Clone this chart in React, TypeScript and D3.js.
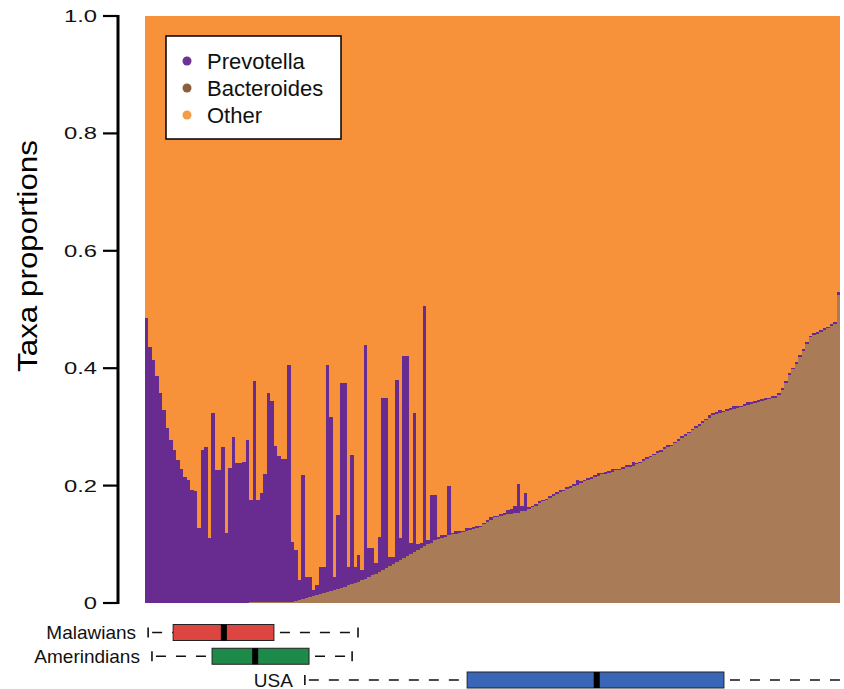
import React from 'react';
import * as d3 from 'd3';

// per-sample proportions, samples ordered as in the figure
const bacteroides = [
  0, 0, 0, 0, 0, 0, 0, 0, 0, 0,
  0, 0, 0, 0, 0, 0, 0, 0, 0, 0,
  0, 0, 0, 0, 0, 0, 0, 0, 0, 0,
  0.001, 0.001, 0.001, 0.001, 0.001, 0.001, 0.001, 0.001, 0.001, 0.001,
  0.001, 0.001, 0.002, 0.003, 0.005, 0.007, 0.009, 0.011, 0.012, 0.014,
  0.015, 0.017, 0.019, 0.02, 0.022, 0.024, 0.026, 0.028, 0.03, 0.032,
  0.034, 0.036, 0.039, 0.041, 0.044, 0.047, 0.05, 0.053, 0.056, 0.06,
  0.063, 0.066, 0.07, 0.073, 0.077, 0.08, 0.084, 0.087, 0.09, 0.094,
  0.097, 0.1, 0.103, 0.107, 0.109, 0.111, 0.113, 0.115, 0.117, 0.118,
  0.12, 0.121, 0.123, 0.124, 0.126, 0.128, 0.13, 0.134, 0.138, 0.142,
  0.146, 0.147, 0.148, 0.15, 0.151, 0.152, 0.153, 0.154, 0.156, 0.157,
  0.16, 0.163, 0.166, 0.17, 0.173, 0.176, 0.179, 0.182, 0.186, 0.189,
  0.191, 0.194, 0.196, 0.199, 0.201, 0.204, 0.207, 0.209, 0.212, 0.215,
  0.217, 0.219, 0.22, 0.222, 0.224, 0.226, 0.227, 0.229, 0.231, 0.232,
  0.234, 0.236, 0.238, 0.242, 0.245, 0.248, 0.252, 0.255, 0.258, 0.262,
  0.265, 0.268, 0.272, 0.276, 0.281, 0.285, 0.289, 0.294, 0.298, 0.302,
  0.307, 0.311, 0.316, 0.32, 0.322, 0.324, 0.325, 0.327, 0.329, 0.331,
  0.332, 0.334, 0.336, 0.338, 0.339, 0.341, 0.343, 0.344, 0.346, 0.347,
  0.349, 0.35, 0.355, 0.363, 0.375, 0.388, 0.398, 0.408, 0.419, 0.43,
  0.442, 0.453, 0.456, 0.459, 0.462, 0.465, 0.468, 0.472, 0.476, 0.525,
];

const prevotella = [
  0.486, 0.436, 0.414, 0.386, 0.358, 0.329, 0.298, 0.278, 0.261, 0.244,
  0.229, 0.215, 0.21, 0.193, 0.19, 0.128, 0.26, 0.266, 0.11, 0.323,
  0.227, 0.227, 0.266, 0.119, 0.23, 0.283, 0.238, 0.238, 0.24, 0.278,
  0.175, 0.377, 0.175, 0.187, 0.218, 0.357, 0.343, 0.266, 0.249, 0.244,
  0.244, 0.404, 0.102, 0.087, 0.034, 0.211, 0.035, 0.033, 0.01, 0.016,
  0.046, 0.044, 0.386, 0.297, 0.022, 0.126, 0.349, 0.347, 0.031, 0.22,
  0.027, 0.046, 0.017, 0.399, 0.049, 0.046, 0.018, 0.06, 0.293, 0.289,
  0.015, 0.012, 0.31, 0.037, 0.343, 0.34, 0.018, 0.236, 0.01, 0.008,
  0.409, 0.007, 0.081, 0.077, 0.004, 0.005, 0.003, 0.084, 0.003, 0.004,
  0.003, 0.002, 0.004, 0.003, 0.003, 0.004, 0.002, 0.003, 0.003, 0.004,
  0.003, 0.002, 0.004, 0.003, 0.007, 0.008, 0.012, 0.049, 0.009, 0.031,
  0.003, 0.002, 0.003, 0.004, 0.003, 0.002, 0.003, 0.004, 0.003, 0.003,
  0.002, 0.004, 0.003, 0.003, 0.009, 0.003, 0.002, 0.004, 0.003, 0.003,
  0.004, 0.002, 0.003, 0.003, 0.004, 0.003, 0.002, 0.003, 0.004, 0.003,
  0.006, 0.003, 0.002, 0.004, 0.003, 0.003, 0.002, 0.004, 0.003, 0.003,
  0.004, 0.002, 0.003, 0.003, 0.004, 0.003, 0.002, 0.003, 0.004, 0.003,
  0.003, 0.002, 0.004, 0.003, 0.003, 0.004, 0.002, 0.003, 0.003, 0.004,
  0.003, 0.002, 0.003, 0.004, 0.003, 0.003, 0.002, 0.004, 0.003, 0.003,
  0.004, 0.002, 0.003, 0.003, 0.004, 0.003, 0.002, 0.003, 0.004, 0.003,
  0.003, 0.002, 0.004, 0.003, 0.003, 0.004, 0.002, 0.003, 0.003, 0.004,
];

const taxa = ['Bacteroides', 'Prevotella', 'Other'];
const legendOrder = ['Prevotella', 'Bacteroides', 'Other'];
const yTicks = [0, 0.2, 0.4, 0.6, 0.8, 1.0];

// box plots of sample rank per population
const groups = ['Malawians', 'Amerindians', 'USA'];
const groupMin = [0.9, 2.0, 46];
const groupQ1 = [8.1, 19.3, 92.7];
const groupMedian = [22.7, 31.7, 130];
const groupQ3 = [37.1, 47.2, 166.6];
const groupMax = [61.3, 59.6, 205];

const colors: Record<string, string> = {
  Bacteroides: '#a97c57',
  Prevotella: '#682c91',
  Other: '#f7923a',
};
const legendColors: Record<string, string> = {
  Prevotella: '#6b3294',
  Bacteroides: '#8c5d3e',
  Other: '#f59c48',
};
const boxColors = ['#dc4540', '#1d8a4a', '#3a66b8'];

const FONT = '"Liberation Sans", Arial, Helvetica, sans-serif';

export default function App() {
  const width = 844;
  const height = 689;
  const left = 145;
  const right = 840;
  const top = 16;
  const bottom = 603;
  const n = bacteroides.length;

  const rows = bacteroides.map((b, i) => ({
    i,
    Bacteroides: b,
    Prevotella: prevotella[i],
    Other: 1 - b - prevotella[i],
  }));
  const series = d3.stack<any>().keys(taxa)(rows);

  const x = d3.scaleBand<number>().domain(d3.range(n)).range([left, right]).padding(0);
  const rank = d3.scaleLinear().domain([0, n]).range([left, right]);
  const y = d3.scaleLinear().domain([0, 1]).range([bottom, top]);
  const row = d3.scalePoint<string>().domain(groups).range([632.5, 680]);

  const fmt = (d: number) => (d === 0 ? '0' : d3.format('.1f')(d));

  return (
    <div>
      <style>{'body{margin:0}'}</style>
      <svg width={width} height={height} style={{ display: 'block', fontFamily: FONT }}>
        <rect width={width} height={height} fill="#fff" />
        <g shapeRendering="crispEdges">
          {series.map((s) => (
            <g key={s.key} fill={colors[s.key]}>
              {s.map((d: any) => (
                <rect
                  key={d.data.i}
                  x={x(d.data.i)}
                  y={y(d[1])}
                  width={x.bandwidth()}
                  height={Math.max(0, y(d[0]) - y(d[1]))}
                />
              ))}
            </g>
          ))}
        </g>

        {/* y axis */}
        <line x1={118} x2={118} y1={y(1) - 1} y2={y(0) + 1} stroke="#000" strokeWidth={3} />
        {yTicks.map((t) => (
          <g key={t}>
            <line x1={103} x2={118} y1={y(t)} y2={y(t)} stroke="#000" strokeWidth={2.2} />
            <text
              transform={`translate(97,${y(t) + 6}) scale(1.4,1)`}
              textAnchor="end"
              fontSize={17}
              fill="#111"
            >
              {fmt(t)}
            </text>
          </g>
        ))}
        <text
          transform={`translate(37,256) rotate(-90)`}
          textAnchor="middle"
          fontSize={27}
          textLength={232}
          lengthAdjust="spacingAndGlyphs"
          fill="#000"
        >
          Taxa proportions
        </text>

        {/* legend */}
        <rect x={166} y={36} width={175} height={103} fill="#fff" stroke="#000" strokeWidth={1.5} />
        {legendOrder.map((k, i) => (
          <g key={k} transform={`translate(187,${61 + i * 27})`}>
            <circle r={4.5} fill={legendColors[k]} />
            <text x={20} y={7.5} fontSize={22} fill="#111">
              {k}
            </text>
          </g>
        ))}

        {/* box plots */}
        {groups.map((g, i) => {
          const cy = row(g) as number;
          const h = 8;
          return (
            <g key={g}>
              <line x1={rank(groupMin[i])} x2={rank(groupQ1[i])} y1={cy} y2={cy} stroke="#111" strokeWidth={1.6} strokeDasharray="10,10" strokeDashoffset={-4} />
              <line x1={rank(groupQ3[i])} x2={rank(groupMax[i])} y1={cy} y2={cy} stroke="#111" strokeWidth={1.6} strokeDasharray="10,10" strokeDashoffset={-6} />
              <line x1={rank(groupMin[i])} x2={rank(groupMin[i])} y1={cy - 5} y2={cy + 5} stroke="#111" strokeWidth={1.6} />
              <line x1={rank(groupMax[i])} x2={rank(groupMax[i])} y1={cy - 5} y2={cy + 5} stroke="#111" strokeWidth={1.6} />
              <rect
                x={rank(groupQ1[i])}
                y={cy - h}
                width={rank(groupQ3[i]) - rank(groupQ1[i])}
                height={2 * h}
                fill={boxColors[i]}
                stroke="#222"
                strokeWidth={1}
              />
              <rect x={rank(groupMedian[i]) - 3} y={cy - h} width={6} height={2 * h} fill="#000" />
              <text
                x={rank(groupMin[i]) - 12}
                y={cy + 6.5}
                textAnchor="end"
                fontSize={19}
                fill="#111"
              >
                {g}
              </text>
            </g>
          );
        })}
      </svg>
    </div>
  );
}
